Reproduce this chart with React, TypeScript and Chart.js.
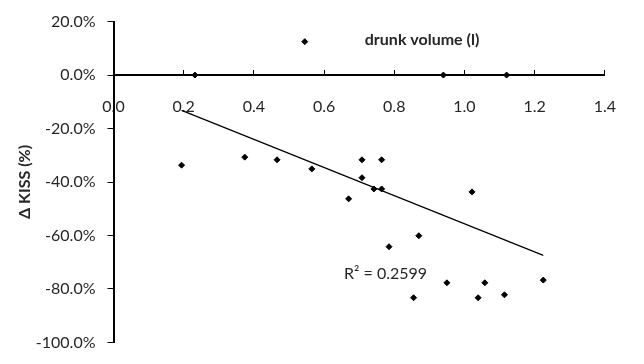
import React, { useEffect, useRef } from "react";
import { Chart, registerables } from "chart.js";

Chart.register(...registerables);

// drunk volume (l)
const volumes = [
  0.232, 0.545, 0.94, 1.12, 0.194, 0.374, 0.466, 0.565, 0.708, 0.764, 0.708, 0.742,
  0.764, 0.67, 1.0215, 0.785, 0.87, 0.95, 1.058, 0.855, 1.039, 1.114, 1.2246,
];
// Δ KISS (%)
const deltaKiss = [
  0, 12.5, 0, 0, -33.7, -30.7, -31.7, -35.1, -31.7, -31.7, -38.4, -42.6,
  -42.6, -46.3, -43.7, -64.2, -60.1, -77.7, -77.7, -83.3, -83.3, -82.2, -76.7,
];

const xTickValues = [0, 0.2, 0.4, 0.6, 0.8, 1.0, 1.2, 1.4];
const yTickValues = [20, 0, -20, -40, -60, -80, -100];

const xAxisLabel = "drunk volume (l)";
const yAxisLabel = "Δ KISS (%)";
const rSquaredLabel = "R² = 0.2599";

const FONT = "Lato, 'Open Sans', sans-serif";
const TEXT = "#262626";

function regression(xs: number[], ys: number[]) {
  const n = xs.length;
  const mx = xs.reduce((a, b) => a + b, 0) / n;
  const my = ys.reduce((a, b) => a + b, 0) / n;
  let sxy = 0;
  let sxx = 0;
  for (let i = 0; i < n; i++) {
    sxy += (xs[i] - mx) * (ys[i] - my);
    sxx += (xs[i] - mx) * (xs[i] - mx);
  }
  const slope = sxy / sxx;
  return { slope, intercept: my - slope * mx };
}

export default function App() {
  const canvasRef = useRef<HTMLCanvasElement | null>(null);

  useEffect(() => {
    if (!canvasRef.current) return;
    const points = volumes.map((v, i) => ({ x: v, y: deltaKiss[i] }));
    const { slope, intercept } = regression(volumes, deltaKiss);
    const minX = Math.min(...volumes);
    const maxX = Math.max(...volumes);
    const trend = [
      { x: minX, y: intercept + slope * minX },
      { x: maxX, y: intercept + slope * maxX },
    ];

    const textPlugin = {
      id: "textLabels",
      afterDatasetsDraw(chart: any) {
        const { ctx, scales } = chart;
        const xs = scales.x;
        const ys = scales.y;
        ctx.save();
        ctx.fillStyle = TEXT;
        ctx.textBaseline = "middle";
        ctx.textAlign = "left";
        ctx.font = `bold 16px ${FONT}`;
        ctx.fillText(xAxisLabel, xs.getPixelForValue(0.716), ys.getPixelForValue(13.3));
        ctx.font = `16px ${FONT}`;
        ctx.fillText(rSquaredLabel, xs.getPixelForValue(0.657), ys.getPixelForValue(-74.2));
        ctx.restore();
      },
    };

    const chart = new Chart(canvasRef.current, {
      type: "scatter",
      data: {
        datasets: [
          {
            label: "trend",
            data: trend,
            showLine: true,
            borderColor: "#000",
            borderWidth: 1.2,
            pointRadius: 0,
            fill: false,
          },
          {
            label: "data",
            data: points,
            pointStyle: "rectRot",
            pointRadius: 3,
            pointBorderWidth: 1,
            backgroundColor: "#000",
            borderColor: "#000",
          },
        ],
      },
      options: {
        animation: false,
        responsive: false,
        layout: { padding: { left: 0, right: 23.2, top: 16, bottom: 9.7 } },
        plugins: { legend: { display: false }, tooltip: { enabled: false } },
        scales: {
          x: {
            type: "linear",
            position: { y: 0 } as any,
            min: 0,
            max: 1.4,
            afterFit: (s: any) => {
              s.height = 0;
            },
            afterBuildTicks: (s: any) => {
              s.ticks = xTickValues.map((v) => ({ value: v }));
            },
            border: { display: true, color: "#000", width: 2 },
            grid: { drawOnChartArea: false, drawTicks: true, tickLength: -6, color: "#000", lineWidth: 1 },
            ticks: {
              autoSkip: false,
              maxRotation: 0,
              padding: 28,
              color: TEXT,
              font: { family: FONT, size: 16 },
              callback: (v: any) => Number(v).toFixed(1),
            },
          },
          y: {
            type: "linear",
            position: "left",
            min: -100,
            max: 20,
            afterFit: (s: any) => {
              s.width = 113.5;
            },
            afterBuildTicks: (s: any) => {
              s.ticks = yTickValues.map((v) => ({ value: v }));
            },
            border: { display: true, color: "#000", width: 2 },
            grid: { drawOnChartArea: false, drawTicks: true, tickLength: 6, color: "#000", lineWidth: 1 },
            title: {
              display: true,
              text: yAxisLabel,
              color: TEXT,
              font: { family: FONT, size: 16, weight: "bold" },
              padding: { top: 15, bottom: 0 },
            },
            ticks: {
              padding: 12,
              color: TEXT,
              font: { family: FONT, size: 16 },
              callback: (v: any) => `${Number(v).toFixed(1)}%`,
            },
          },
        },
      },
      plugins: [textPlugin],
    });

    return () => chart.destroy();
  }, []);

  return (
    <div style={{ position: "fixed", left: 0, top: 0, width: 644, height: 364, background: "#fff" }}>
      <canvas ref={canvasRef} width={644} height={364} />
    </div>
  );
}
